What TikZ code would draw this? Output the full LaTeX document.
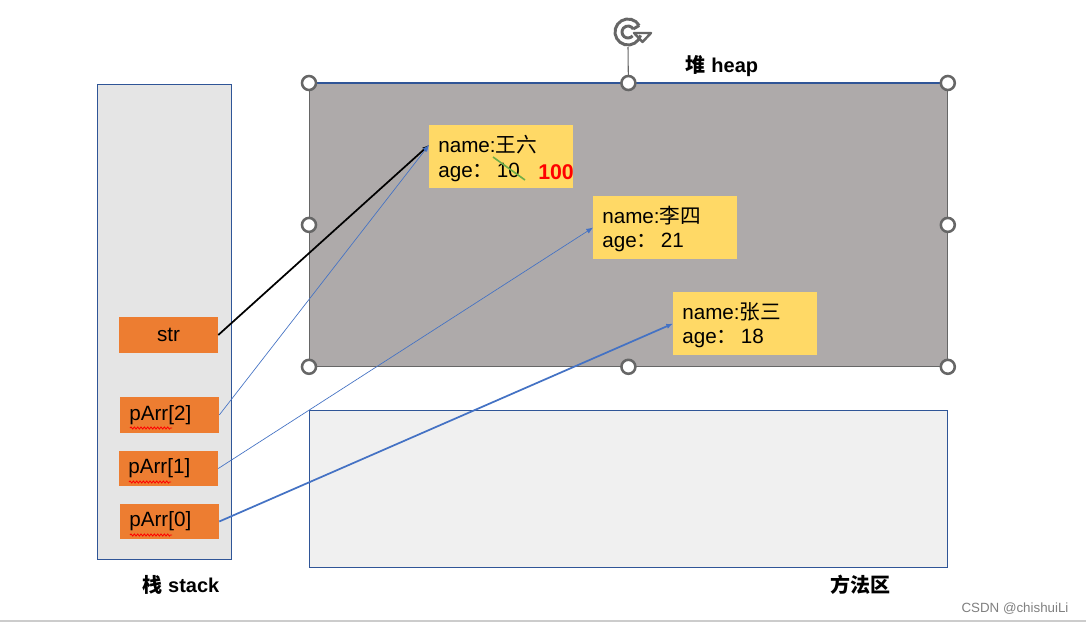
\documentclass[tikz,border=0pt]{standalone}
\usepackage{fontspec}
\setmainfont{Liberation Sans}
\newfontfamily\cjk{Noto Sans CJK SC}
\usetikzlibrary{arrows.meta,decorations.pathmorphing}
\definecolor{stackfill}{HTML}{E5E5E5}
\definecolor{heapfill}{HTML}{AEAAAA}
\definecolor{methodfill}{HTML}{F0F0F0}
\definecolor{borderblue}{HTML}{2F5597}
\definecolor{orangebox}{HTML}{ED7D31}
\definecolor{yellowbox}{HTML}{FFD966}
\definecolor{linkblue}{HTML}{4472C4}
\definecolor{handlegray}{HTML}{666666}
\definecolor{strikegreen}{HTML}{70AD47}
\tikzset{
  varbox/.style={fill=orangebox, minimum width=74.25pt, minimum height=26.5pt, inner sep=0pt, font=\fontsize{15.5}{17}\selectfont},
  leftvar/.style={varbox, text width=74.25pt, align=left, execute at begin node={\hspace*{7pt}}},
  objbox/.style={fill=yellowbox, minimum width=108pt, minimum height=47pt, inner sep=0pt},
  objtext/.style={anchor=west, inner sep=0pt, font=\fontsize{15.5}{17}\selectfont},
  handle/.style={circle, draw=handlegray, line width=1.9pt, fill=white, minimum size=10.5pt, inner sep=0pt},
  region/.style={draw=borderblue, line width=0.5pt},
  title/.style={font=\bfseries\fontsize{15}{17}\selectfont},
  ptr/.style={-{Latex[length=5pt,width=4pt]}},
  squiggle/.style={red, line width=0.6pt, decorate, decoration={snake, amplitude=0.8pt, segment length=2.5pt}}
}
\begin{document}
\begin{tikzpicture}[x=0.75pt,y=-0.75pt]
\useasboundingbox (0,0) rectangle (1086,625);
\fill[white] (0,0) rectangle (1086,625);
\draw[gray!40, line width=1pt] (0,621) -- (1086,621);

% stack region
\node[region, fill=stackfill, anchor=north west, minimum width=100.5pt, minimum height=356.25pt, inner sep=0pt] (stack) at (97,84) {};
\node[title] (stacklbl) at (181,585) {{\cjk\bfseries 栈} stack};

% heap region
\node[draw=handlegray, line width=0.6pt, fill=heapfill, anchor=north west, minimum width=478.5pt, minimum height=212.25pt, inner sep=0pt] (heap) at (309,83) {};
\draw[borderblue, line width=0.8pt] (heap.north west) -- (heap.north east);
\node[title] (heaplbl) at (722,66) {{\cjk\bfseries 堆} heap};

% method area
\node[region, fill=methodfill, anchor=north west, minimum width=478.5pt, minimum height=117.75pt, inner sep=0pt] (method) at (309,410) {};
\node[title] (methodlbl) at (860,585) {{\cjk\bfseries 方法区}};

% rotation handle
\coordinate (rot) at (628,32);
\draw[handlegray, line width=0.8pt] (628,47) -- (heap.north);
\draw[handlegray, line width=2.2pt] (rot) ++(15:13) arc (15:330:13);
\draw[handlegray, line width=2.2pt] (rot) ++(40:6) arc (40:330:6);
\draw[handlegray, line width=2.2pt] (rot) ++(330:6) -- ++(330:7);
\draw[handlegray, line width=1.8pt, line join=round] (634,33) -- (651,33) -- (642.5,42) -- cycle;

% selection handles
\foreach \p/\n in {heap.north west/h1, heap.north/h2, heap.north east/h3, heap.west/h4, heap.east/h5, heap.south west/h6, heap.south/h7, heap.south east/h8}
  \node[handle] (\n) at (\p) {};

% objects
\node[objbox, anchor=north west] (w6) at (429,125) {};
\node[objtext] (w6a) at (438,145) {name:{\cjk 王六}};
\node[objtext] (w6b) at (438,172) {age{\cjk ：}\,10};
\node[objtext, red, font=\bfseries\fontsize{16}{17}\selectfont] (w6c) at (538,172) {100};
\draw[strikegreen, line width=1.2pt] (493,157) -- (525,180);

\node[objbox, anchor=north west] (l4) at (593,196) {};
\node[objtext] (l4a) at (602,216) {name:{\cjk 李四}};
\node[objtext] (l4b) at (602,242) {age{\cjk ：}\,21};

\node[objbox, anchor=north west] (z3) at (673,292) {};
\node[objtext] (z3a) at (682,312) {name:{\cjk 张三}};
\node[objtext] (z3b) at (682,338) {age{\cjk ：}\,18};

% stack variables
\node[varbox] (str) at (168.5,335) {str};
\node[leftvar] (p2) at (169.5,415) {pArr[2]};
\node[leftvar] (p1) at (168.5,468.5) {pArr[1]};
\node[leftvar] (p0) at (169.5,521.5) {pArr[0]};
\draw[squiggle] (130,428) -- (172,428);
\draw[squiggle] (129,482) -- (171,482);
\draw[squiggle] (130,535) -- (172,535);

% pointers
\draw[ptr, black, line width=1.3pt] (str.east) -- (w6.north west |- w6a);
\draw[ptr, linkblue, line width=0.5pt] (p2.east) -- (w6.north west |- w6a);
\draw[ptr, linkblue, line width=0.5pt] (p1.east) -- (l4.west);
\draw[ptr, linkblue, line width=1.3pt] (p0.east) -- (z3.west);

% watermark
\node[gray, font=\fontsize{10}{12}\selectfont] (wm) at (1015,609) {CSDN @chishuiLi};
\end{tikzpicture}
\end{document}
